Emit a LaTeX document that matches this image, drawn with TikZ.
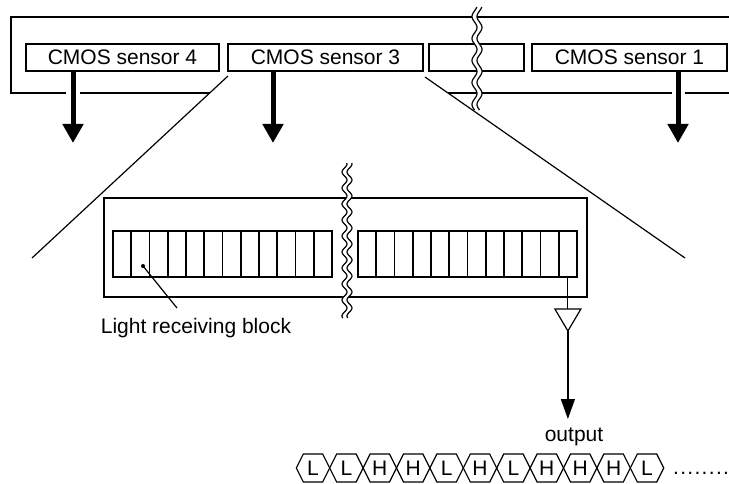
\documentclass[tikz,border=0pt]{standalone}
\usepackage{fontspec}
\setmainfont{Liberation Sans}
\usetikzlibrary{arrows.meta}
\begin{document}
\begin{tikzpicture}[x=1pt,y=-1pt,
  ln/.style={line width=1.4pt},
  thinln/.style={line width=1.2pt},
  sbox/.style={draw, line width=1.4pt, minimum height=27pt, inner sep=0pt, font=\fontsize{21pt}{25pt}\selectfont},
  bigarrow/.style={line width=5pt, -{Triangle[length=19pt,width=20pt]}},
  cellbox/.style={draw, line width=1.6pt, minimum width=18.25pt, minimum height=46pt, inner sep=0pt},
  lbl/.style={font=\fontsize{21pt}{25pt}\selectfont, inner sep=0pt},
]
\useasboundingbox (0,0) rectangle (729,484);

% top frame
\draw[ln] (729,17) -- (11,17) -- (11,93) -- (66,93);
\draw[ln] (80,93) -- (209.7,93);
\draw[ln] (448.4,93) -- (672,93);
\draw[ln] (685,93) -- (729,93);

% sensor boxes
\node[sbox, minimum width=193pt] (s4) at (122.5,57.5) {CMOS sensor 4};
\node[sbox, minimum width=195pt] (s3) at (325.5,57.5) {CMOS sensor 3};
\node[sbox, minimum width=95pt] (s2) at (476.5,57.5) {};
\node[sbox, minimum width=195pt] (s1) at (629.5,57.5) {CMOS sensor 1};

% arrows
\coordinate (a4) at (73,143);
\coordinate (a3) at (273,143);
\coordinate (a1) at (678,143);
\draw[bigarrow] (s4.south -| a4) -- (a4);
\draw[bigarrow] (s3.south -| a3) -- (a3);
\draw[bigarrow] (s1.south -| a1) -- (a1);

% zoom lines
\coordinate (dl0) at (228,76);
\coordinate (dl1) at (32,258);
\coordinate (dr0) at (425,77);
\coordinate (dr1) at (685,258);
\draw[thinln] (dl0) -- (dl1);
\draw[thinln] (dr0) -- (dr1);

% top break
\fill[white] plot[domain=7:110, samples=80] ({474.5+2.5*sin(\x*16.3636)},\x)
  -- plot[domain=110:7, samples=80] ({479.5+2.5*sin(\x*16.3636)},\x) -- cycle;
\draw[thinln] plot[domain=7:110, samples=80] ({474.5+2.5*sin(\x*16.3636)},\x);
\draw[thinln] plot[domain=7:110, samples=80] ({479.5+2.5*sin(\x*16.3636)},\x);

% inner sensor frame
\node[draw, ln, minimum width=483pt, minimum height=99pt, inner sep=0pt] (inner) at (345.5,247.5) {};
\foreach \i in {1,...,12} {
  \node[cellbox] (l\i) at ({113+18.25*(\i-0.5)},254) {};
  \node[cellbox] (r\i) at ({358+18.25*(\i-0.5)},254) {};
}

% lower break
\fill[white] plot[domain=163:318, samples=120] ({344.5+2.5*sin(\x*22.5)},\x)
  -- plot[domain=318:163, samples=120] ({349.5+2.5*sin(\x*22.5)},\x) -- cycle;
\draw[thinln] plot[domain=163:318, samples=120] ({344.5+2.5*sin(\x*22.5)},\x);
\draw[thinln] plot[domain=163:318, samples=120] ({349.5+2.5*sin(\x*22.5)},\x);

% light receiving block label
\coordinate (dot) at (143,266);
\fill (dot) circle (2pt);
\node[lbl, anchor=base] (lrb) at (196,333) {Light receiving block};
\coordinate (lead) at (177,308);
\draw[thinln] (dot) -- (lead);

% output buffer
\coordinate (bufL) at (554.9,309);
\coordinate (bufR) at (580.9,309);
\coordinate (bufT) at (567.9,331);
\draw[thinln] (r12.south) -- (r12.south |- bufL);
\draw[thinln] (bufL) -- (bufR) -- (bufT) -- cycle;
\coordinate (otip) at (567.9,419);
\draw[thinln, -{Triangle[length=20pt,width=14pt]}] (bufT) -- (otip);
\node[lbl, anchor=base] (out) at (574,441) {output};

% bit sequence
\foreach \l [count=\i from 0] in {L,L,H,H,L,H,L,H,H,H,L} {
  \pgfmathsetmacro\c{313+33.4*\i}
  \draw[thinln] (\c-16.7,468) -- (\c-9.7,454) -- (\c+9.7,454) -- (\c+16.7,468) -- (\c+9.7,482) -- (\c-9.7,482) -- cycle;
  \node[lbl] (h\i) at (\c,468) {\l};
}
\node[lbl, anchor=base west] (dots) at (673,474) {.\hspace{1.3pt}.\hspace{1.3pt}.\hspace{1.3pt}.\hspace{1.3pt}.\hspace{1.3pt}.\hspace{1.3pt}.\hspace{1.3pt}.};
\end{tikzpicture}
\end{document}
